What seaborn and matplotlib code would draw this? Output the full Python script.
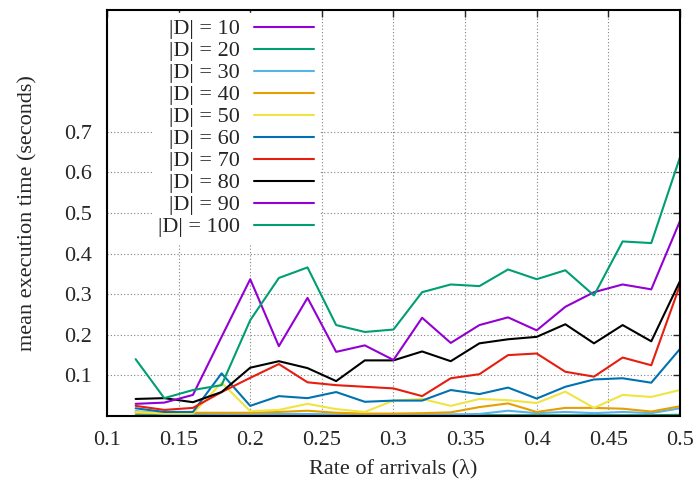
import pandas as pd
import matplotlib.pyplot as plt
import seaborn as sns

sns.set_style("white")
plt.rcParams['font.family'] = ['Liberation Serif', 'DejaVu Serif']

# =====================
# Data
# =====================
rates = [0.12, 0.14, 0.16, 0.18, 0.20, 0.22, 0.24, 0.26, 0.28, 0.30,
         0.32, 0.34, 0.36, 0.38, 0.40, 0.42, 0.44, 0.46, 0.48, 0.50]

d10 = [0.001, 0.001, 0.001, 0.001, 0.001, 0.001, 0.001, 0.001, 0.001, 0.001,
       0.001, 0.001, 0.001, 0.001, 0.001, 0.001, 0.001, 0.001, 0.001, 0.001]
d20 = [0.002, 0.002, 0.002, 0.002, 0.002, 0.002, 0.002, 0.002, 0.002, 0.002,
       0.002, 0.002, 0.002, 0.002, 0.002, 0.002, 0.002, 0.002, 0.002, 0.003]
d30 = [0.012, 0.006, 0.006, 0.005, 0.004, 0.005, 0.005, 0.004, 0.004, 0.004,
       0.004, 0.004, 0.005, 0.013, 0.007, 0.010, 0.007, 0.010, 0.007, 0.019]
d40 = [0.008, 0.008, 0.008, 0.008, 0.008, 0.010, 0.013, 0.008, 0.006, 0.006,
       0.007, 0.009, 0.022, 0.031, 0.010, 0.020, 0.020, 0.018, 0.011, 0.024]
d50 = [0.010, 0.006, 0.006, 0.082, 0.012, 0.015, 0.030, 0.017, 0.010, 0.038,
       0.042, 0.025, 0.042, 0.039, 0.032, 0.060, 0.020, 0.052, 0.047, 0.064]
d60 = [0.019, 0.010, 0.010, 0.105, 0.025, 0.049, 0.044, 0.059, 0.035, 0.038,
       0.038, 0.064, 0.054, 0.070, 0.043, 0.072, 0.090, 0.093, 0.082, 0.165]
d70 = [0.025, 0.015, 0.020, 0.059, 0.094, 0.128, 0.083, 0.076, 0.072, 0.068,
       0.049, 0.093, 0.103, 0.150, 0.154, 0.109, 0.097, 0.144, 0.125, 0.322]
d80 = [0.042, 0.044, 0.034, 0.059, 0.119, 0.135, 0.118, 0.086, 0.137, 0.137,
       0.159, 0.135, 0.179, 0.189, 0.195, 0.226, 0.179, 0.224, 0.184, 0.332]
d90 = [0.030, 0.033, 0.052, 0.195, 0.337, 0.172, 0.291, 0.158, 0.174, 0.138,
       0.242, 0.180, 0.224, 0.243, 0.211, 0.269, 0.305, 0.324, 0.312, 0.480]
d100 = [0.140, 0.044, 0.064, 0.076, 0.236, 0.340, 0.366, 0.224, 0.207, 0.213,
        0.305, 0.324, 0.320, 0.361, 0.337, 0.359, 0.297, 0.430, 0.426, 0.637]

sizes = [10, 20, 30, 40, 50, 60, 70, 80, 90, 100]
series = [d10, d20, d30, d40, d50, d60, d70, d80, d90, d100]

# gnuplot default line colours
colors = ['#9400d3', '#009e73', '#56b4e9', '#e69f00', '#f0e442',
          '#0072b2', '#e51e10', '#000000', '#9400d3', '#009e73']

xticks = [0.1, 0.15, 0.2, 0.25, 0.3, 0.35, 0.4, 0.45, 0.5]
xtick_labels = ['0.1', '0.15', '0.2', '0.25', '0.3', '0.35', '0.4', '0.45', '0.5']
yticks = [0.1, 0.2, 0.3, 0.4, 0.5, 0.6, 0.7]
ytick_labels = ['0.1', '0.2', '0.3', '0.4', '0.5', '0.6', '0.7']

# =====================
# Long-form table
# =====================
labels = [f'|D| = {s}' for s in sizes]
rows = []
for lab, vals in zip(labels, series):
    for r, v in zip(rates, vals):
        rows.append({'rate': r, 'time': v, 'series': lab})
df = pd.DataFrame(rows)

# =====================
# Plot
# =====================
fs = 16
fig = plt.figure(figsize=(6.97, 4.83), dpi=100)
ax = fig.add_axes([0.1535, 0.1387, 0.822, 0.8405])

sns.lineplot(data=df, x='rate', y='time', hue='series', hue_order=labels,
             palette=colors, linewidth=1.5, ax=ax, legend=True)

ax.set_xlim(0.1, 0.5)
ax.set_ylim(0, 1.0)
ax.set_xticks(xticks)
ax.set_xticklabels(xtick_labels)
ax.set_yticks(yticks)
ax.set_yticklabels(ytick_labels)
ax.tick_params(direction='in', top=True, right=True, length=5, width=1,
               labelsize=fs)
ax.tick_params(axis='x', pad=11)
ax.tick_params(axis='y', pad=11)
ax.grid(True, linestyle=(0, (1, 2)), color='#808080', linewidth=0.8)
for sp in ax.spines.values():
    sp.set_linewidth(1.5)
    sp.set_color('black')

ax.set_xlabel('Rate of arrivals (λ)', fontsize=fs, labelpad=6)
ax.set_ylabel('mean execution time (seconds)', fontsize=fs, labelpad=19)

leg = ax.legend(loc='upper right', bbox_to_anchor=(0.376, 1.0),
                markerfirst=False, frameon=True, fancybox=False,
                fontsize=fs, handlelength=2.7, handletextpad=0.6,
                labelspacing=0.065, borderpad=0.25, borderaxespad=0.15)
leg.get_frame().set_facecolor('white')
leg.get_frame().set_edgecolor('white')
leg.get_frame().set_alpha(1.0)
for line in leg.get_lines():
    line.set_linewidth(1.5)

fig.savefig('out.png', dpi=100)
